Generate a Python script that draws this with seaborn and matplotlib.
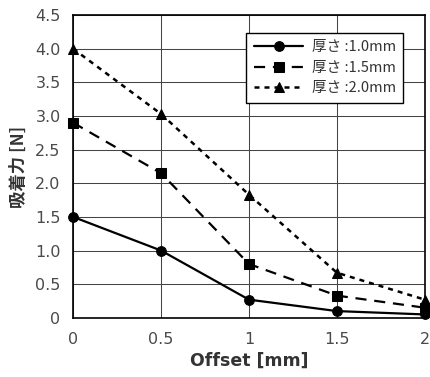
import matplotlib
matplotlib.use("Agg")
import matplotlib.pyplot as plt
import seaborn as sns
import pandas as pd

offset = [0, 0.5, 1, 1.5, 2]
t10 = [1.5, 1.0, 0.27, 0.10, 0.05]
t15 = [2.9, 2.15, 0.80, 0.33, 0.15]
t20 = [4.0, 3.03, 1.83, 0.67, 0.27]
labels = ["厚さ :1.0mm", "厚さ :1.5mm", "厚さ :2.0mm"]
xticklabels = ["0", "0.5", "1", "1.5", "2"]
yticks = [0, 0.5, 1.0, 1.5, 2.0, 2.5, 3.0, 3.5, 4.0, 4.5]
yticklabels = ["0", "0.5", "1.0", "1.5", "2.0", "2.5", "3.0", "3.5", "4.0", "4.5"]

sns.set_style("white")
plt.rcParams['font.family'] = ['DejaVu Sans', 'Noto Sans CJK JP']

fig = plt.figure(figsize=(4.3, 3.77), dpi=100)
ax = fig.add_axes([0.170, 0.157, 0.818, 0.803])

styles = [
    dict(marker="o", markersize=7, linewidth=1.6, dashes=None),
    dict(marker="s", markersize=6.5, linewidth=1.6, dashes=(5, 3.5)),
    dict(marker="^", markersize=7.5, linewidth=1.8, dashes=(2, 2)),
]
for vals, lab, st in zip([t10, t15, t20], labels, styles):
    df = pd.DataFrame({"x": offset, "y": vals})
    kw = dict(color="black", marker=st["marker"], markersize=st["markersize"],
              linewidth=st["linewidth"], markeredgecolor="black", label=lab,
              clip_on=False, zorder=5)
    sns.lineplot(data=df, x="x", y="y", ax=ax, **kw)
    l = ax.lines[-1]
    if st["dashes"] is not None:
        l.set_dashes(st["dashes"])

ax.set_xlim(0, 2)
ax.set_ylim(0, 4.5)
ax.set_xticks(offset)
ax.set_xticklabels(xticklabels)
ax.set_yticks(yticks)
ax.set_yticklabels(yticklabels)
ax.tick_params(axis="both", labelsize=11.5, length=0, colors="#4a4a4a")
ax.tick_params(axis="y", pad=9)
ax.tick_params(axis="x", pad=10)
ax.grid(True, color="#444444", linewidth=0.75)
ax.set_axisbelow(True)
for s in ax.spines.values():
    s.set_color("black")
    s.set_linewidth(1.2)

ax.set_xlabel("Offset [mm]", fontsize=12.5, fontweight="bold", color="#333333", labelpad=4)
ax.set_ylabel("吸着力 [N]", fontsize=12.5, fontweight="bold", color="#333333", labelpad=5,
              family=['Noto Sans CJK JP', 'DejaVu Sans'])

leg = ax.legend(loc="upper right", bbox_to_anchor=(0.96, 0.965),
                prop={'family': ['Noto Sans CJK JP', 'DejaVu Sans'], 'size': 10.5},
                frameon=True, fancybox=False, edgecolor="black", framealpha=1,
                handlelength=3.4, borderpad=0.5, labelspacing=0.45, handletextpad=0.6)
leg.get_frame().set_linewidth(1.0)
for t in leg.get_texts():
    t.set_color("#333333")

fig.savefig("out.png", dpi=100)
